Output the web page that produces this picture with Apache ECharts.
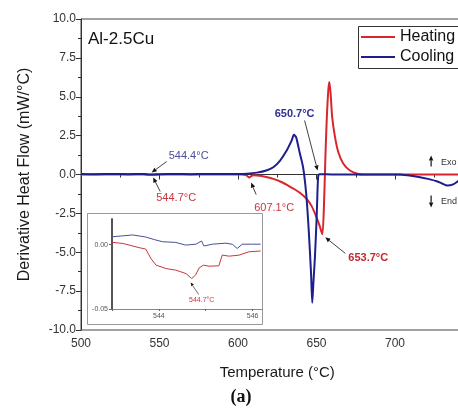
<!DOCTYPE html>
<html>
<head>
<meta charset="utf-8">
<script src="https://cdn.jsdelivr.net/npm/echarts@6/dist/echarts.min.js"></script>
<style>
  html, body { margin: 0; padding: 0; background: #fff; }
  #chart { width: 458px; height: 408px; }
</style>
</head>
<body>
<div id="chart"></div>
<script>
// Derivative heat flow of Al-2.5Cu, heating and cooling runs (mW/°C vs °C)
const heatTemp = [500, 510, 520, 530, 540, 544.7, 550, 560, 570, 580, 590, 600, 604, 605.8, 607.1, 608.4, 610, 614, 618, 622.5, 628, 632, 636, 640, 644, 647, 650, 652, 653.7, 654.8, 655.6, 656.5, 657.5, 658.2, 659, 660, 661.8, 663.9, 667.1, 671.3, 676.6, 680, 690, 700, 710, 720, 730, 740, 750];
const heatFlow = [0.0, 0.01, 0.0, 0.01, 0.0, -0.02, 0.0, 0.01, 0.0, 0.01, 0.0, 0.01, -0.01, -0.08, -0.2, -0.1, -0.05, -0.08, -0.16, -0.28, -0.5, -0.72, -0.95, -1.22, -1.6, -2.05, -2.75, -3.3, -3.85, -1.87, 0.9, 3.47, 5.4, 5.95, 5.19, 3.69, 2.4, 1.43, 0.69, 0.26, 0.03, 0.0, 0.0, 0.0, 0.0, 0.0, 0.0, 0.0, 0.0];

const coolTemp = [500, 510, 520, 530, 540, 544.4, 550, 560, 570, 580, 590, 600, 606, 612, 618, 622.5, 626.8, 631, 634.2, 635.6, 637, 639.3, 641, 642, 643.5, 645, 646.5, 647.3, 648, 649, 650, 650.5, 650.8, 651.2, 652, 660, 670, 680, 690, 700, 703, 708, 716, 721, 726.6, 730, 733.3, 737, 740.8, 745, 750];
const coolFlow = [0.03, 0.02, 0.03, 0.02, 0.03, 0.0, 0.02, 0.03, 0.02, 0.03, 0.03, 0.03, 0.05, 0.12, 0.26, 0.47, 0.9, 1.54, 2.19, 2.55, 2.4, 1.4, 0.7, 0.1, -1.3, -3.5, -6.3, -8.25, -7.0, -5.3, -3.0, -1.5, -0.6, -0.05, 0.02, 0.0, 0.0, 0.0, 0.0, 0.0, 0.0, -0.05, -0.17, -0.28, -0.43, -0.58, -0.71, -0.64, -0.39, -0.2, -0.1];

// Magnified window around 544 °C
const zoomHeatTemp = [543.01, 543.23, 543.58, 543.72, 543.83, 543.94, 544.15, 544.36, 544.47, 544.58, 544.7, 544.78, 544.86, 544.95, 545.07, 545.28, 545.35, 545.5, 545.71, 545.92, 546.17];
const zoomHeatFlow = [0.0018, 0.001, -0.0023, -0.0034, -0.0107, -0.0159, -0.0185, -0.0198, -0.0211, -0.0225, -0.0263, -0.0237, -0.018, -0.0159, -0.0167, -0.0164, -0.0081, -0.0089, -0.0081, -0.0055, -0.0049];
const zoomCoolTemp = [543.01, 543.2, 543.44, 543.72, 543.9, 544.08, 544.36, 544.57, 544.79, 544.91, 544.96, 545.14, 545.43, 545.57, 545.67, 545.78, 546.0, 546.17];
const zoomCoolFlow = [0.0062, 0.0068, 0.0076, 0.006, 0.004, 0.0023, 0.0018, -0.0003, 0.0004, 0.0029, -0.001, 0.0004, 0.0012, 0.0003, -0.0029, 0.0004, 0.0004, 0.0004];

// Inset tick values
const zoomXTicks = [543, 544, 545, 546];
const zoomXLabels = [544, 546];
const zoomYTicks = [-0.05, 0];

const pairs = (xs, ys) => xs.map((x, i) => [x, ys[i]]);

const RED = '#d8262c';
const BLUE = '#1e1f8c';
const FONT = 'Liberation Sans, Arial, sans-serif';

const chart = echarts.init(document.getElementById('chart'), null, { renderer: 'canvas' });

const option = {
  animation: false,
  backgroundColor: '#fff',
  textStyle: { fontFamily: FONT },
  grid: [
    { left: 81, top: 19, width: 392.5, height: 311, show: true, borderColor: '#444', borderWidth: 1, backgroundColor: 'transparent', outerBoundsMode: 'none', containLabel: false },
    { left: 112, top: 219, width: 150, height: 90, outerBoundsMode: 'none', containLabel: false }
  ],
  legend: {
    data: ['Heating', 'Cooling'],
    orient: 'vertical',
    left: 358, top: 26,
    icon: 'rect',
    itemWidth: 34, itemHeight: 2, itemGap: 4,
    padding: [3, 3, 3, 3],
    borderWidth: 0,
    textStyle: { fontSize: 16, color: '#111', fontFamily: FONT }
  },
  xAxis: [
    {
      gridIndex: 0, type: 'value', min: 500, max: 750, interval: 50,
      name: 'Temperature (°C)', nameLocation: 'middle', nameGap: 35,
      nameTextStyle: { fontSize: 15, color: '#1a1a1a' },
      axisLine: { lineStyle: { color: '#333', width: 1 } },
      axisTick: { show: true, inside: false, length: 5, lineStyle: { color: '#333' } },
      minorTick: { show: true, splitNumber: 2, length: 3, lineStyle: { color: '#333' } },
      axisLabel: { fontSize: 12, color: '#333', margin: 8 },
      splitLine: { show: false }
    },
    {
      gridIndex: 1, type: 'value', min: 543, max: 546.2, z: 20,
      axisLine: { onZero: false, lineStyle: { color: '#888', width: 1 } },
      axisTick: { show: true, length: 2, customValues: zoomXTicks, lineStyle: { color: '#666' } },
      axisLabel: { fontSize: 7, color: '#555', margin: 4, customValues: zoomXLabels },
      splitLine: { show: false }
    }
  ],
  yAxis: [
    {
      gridIndex: 0, type: 'value', min: -10, max: 10, interval: 2.5,
      name: 'Derivative Heat Flow (mW/°C)', nameLocation: 'middle', nameGap: 48,
      nameTextStyle: { fontSize: 16, color: '#1a1a1a' },
      axisLine: { show: true, lineStyle: { color: '#333', width: 1 } },
      axisTick: { show: true, inside: false, length: 5, lineStyle: { color: '#333' } },
      minorTick: { show: true, splitNumber: 2, length: 3, lineStyle: { color: '#333' } },
      axisLabel: { fontSize: 12, color: '#333', margin: 5, formatter: v => v.toFixed(1) },
      splitLine: { show: false }
    },
    {
      gridIndex: 1, type: 'value', min: -0.05, max: 0.02, z: 20,
      axisLine: { show: true, onZero: false, lineStyle: { color: '#555', width: 2 } },
      axisTick: { show: true, length: 3, customValues: zoomYTicks, lineStyle: { color: '#666' } },
      axisLabel: { fontSize: 7, color: '#555', margin: 4, customValues: zoomYTicks, formatter: v => v.toFixed(2) },
      splitLine: { show: false }
    }
  ],
  series: [
    {
      name: 'Heating', type: 'line', xAxisIndex: 0, yAxisIndex: 0,
      data: pairs(heatTemp, heatFlow), showSymbol: false, symbol: 'none', smooth: 0.25, z: 3,
      lineStyle: { color: RED, width: 2 }, itemStyle: { color: RED }
    },
    {
      name: 'Cooling', type: 'line', xAxisIndex: 0, yAxisIndex: 0,
      data: pairs(coolTemp, coolFlow), showSymbol: false, symbol: 'none', smooth: 0.25, z: 4,
      lineStyle: { color: BLUE, width: 2 }, itemStyle: { color: BLUE }
    },
    {
      name: 'zoomHeating', type: 'line', xAxisIndex: 1, yAxisIndex: 1,
      data: pairs(zoomHeatTemp, zoomHeatFlow), showSymbol: false, symbol: 'none', z: 22,
      lineStyle: { color: '#c8373c', width: 1 }
    },
    {
      name: 'zoomCooling', type: 'line', xAxisIndex: 1, yAxisIndex: 1,
      data: pairs(zoomCoolTemp, zoomCoolFlow), showSymbol: false, symbol: 'none', z: 22,
      lineStyle: { color: '#4a4f98', width: 1 }
    }
  ]
};

chart.setOption(option);

// Arrow: shaft plus filled triangular head ending at the tip
function arrow(tail, tip, color, width, headLen, headW) {
  const dx = tip[0] - tail[0], dy = tip[1] - tail[1];
  const len = Math.hypot(dx, dy);
  const ux = dx / len, uy = dy / len;
  const bx = tip[0] - ux * headLen, by = tip[1] - uy * headLen;
  return [
    { type: 'line', z: 20, shape: { x1: tail[0], y1: tail[1], x2: bx, y2: by }, style: { stroke: color, lineWidth: width } },
    { type: 'polygon', z: 20, shape: { points: [tip, [bx - uy * headW, by + ux * headW], [bx + uy * headW, by - ux * headW]] }, style: { fill: color } }
  ];
}

// Callouts: anchored on a data point, offsets in pixels
const callouts = [
  { grid: 0, at: [544.4, 0], tip: [1, -2], tail: [16, -13], label: [18, -19], align: 'left', text: '544.4°C', color: '#4a4f98', bold: false, size: 11 },
  { grid: 0, at: [544.7, 0], tip: [2, 3], tail: [9, 17], label: [25, 23], align: 'center', text: '544.7°C', color: '#c8373c', bold: false, size: 11 },
  { grid: 0, at: [607.1, -0.2], tip: [2, 5], tail: [7, 17], label: [25, 30], align: 'center', text: '607.1°C', color: '#c8373c', bold: false, size: 11 },
  { grid: 0, at: [650.7, 0], tip: [0, -4], tail: [-13, -54], label: [-23, -61], align: 'center', text: '650.7°C', color: '#2d3192', bold: true, size: 11 },
  { grid: 0, at: [653.7, -3.85], tip: [3, 3], tail: [23, 19], label: [26, 24], align: 'left', text: '653.7°C', color: '#c0282e', bold: true, size: 11 },
  { grid: 1, at: [544.7, -0.0263], tip: [-1, 4], tail: [7, 16], label: [10, 22], align: 'center', text: '544.7°C', color: '#c8373c', bold: false, size: 7 }
];

function buildGraphics() {
  const g = [];
  // legend frame, running past the right edge
  g.push({ type: 'rect', z: 30, shape: { x: 358.5, y: 26.5, width: 130, height: 42 }, style: { fill: 'none', stroke: '#333', lineWidth: 1 } });
  // inset frame
  g.push({ type: 'rect', z: -10, shape: { x: 87.5, y: 213.5, width: 175, height: 111 }, style: { fill: '#fff', stroke: '#999', lineWidth: 1 } });
  callouts.forEach(c => {
    const p = chart.convertToPixel({ gridIndex: c.grid }, c.at);
    const tip = [p[0] + c.tip[0], p[1] + c.tip[1]];
    const tail = [p[0] + c.tail[0], p[1] + c.tail[1]];
    const small = c.grid === 1;
    g.push(...arrow(tail, tip, '#111', small ? 0.6 : 0.8, small ? 3.5 : 5, small ? 1.5 : 2.2));
    g.push({
      type: 'text', z: 21, x: p[0] + c.label[0], y: p[1] + c.label[1],
      style: { text: c.text, fill: c.color, fontSize: c.size, fontWeight: c.bold ? 'bold' : 'normal', fontFamily: FONT, align: c.align, verticalAlign: 'middle' }
    });
  });
  // Exo / End direction marks
  const e = chart.convertToPixel({ gridIndex: 0 }, [723, 0]);
  g.push(...arrow([e[0], e[1] - 8], [e[0], e[1] - 19], '#111', 1.2, 5, 2.2));
  g.push(...arrow([e[0], e[1] + 21], [e[0], e[1] + 33], '#111', 1.2, 5, 2.2));
  g.push({ type: 'text', z: 21, x: e[0] + 10, y: e[1] - 12, style: { text: 'Exo', fill: '#333', fontSize: 9, fontFamily: FONT, verticalAlign: 'middle' } });
  g.push({ type: 'text', z: 21, x: e[0] + 10, y: e[1] + 27, style: { text: 'End', fill: '#333', fontSize: 9, fontFamily: FONT, verticalAlign: 'middle' } });
  // sample label and panel tag
  g.push({ type: 'text', z: 21, x: 88, y: 39, style: { text: 'Al-2.5Cu', fill: '#111', fontSize: 17, fontFamily: FONT, verticalAlign: 'middle' } });
  g.push({ type: 'text', z: 21, x: 241, y: 397, style: { text: '(a)', fill: '#111', fontSize: 18, fontWeight: 'bold', fontFamily: 'Liberation Serif, Times New Roman, serif', align: 'center', verticalAlign: 'middle' } });
  return g;
}

chart.setOption({ graphic: buildGraphics() });
</script>
</body>
</html>
